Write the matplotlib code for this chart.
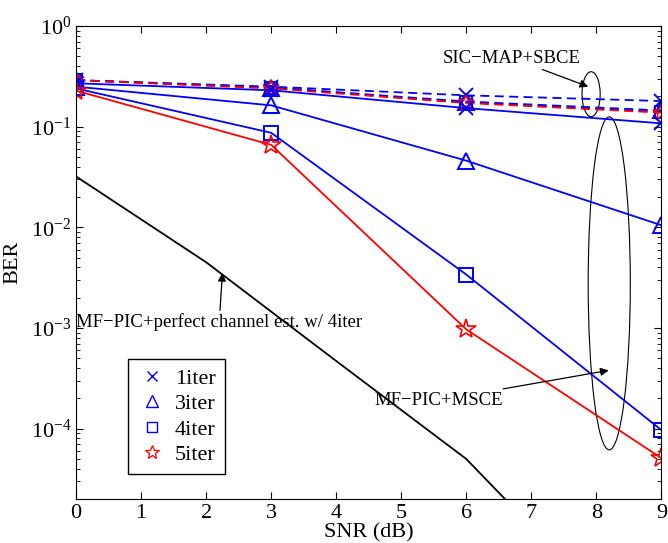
import matplotlib
matplotlib.use("Agg")
import matplotlib.pyplot as plt
from matplotlib.lines import Line2D
from matplotlib.patches import Ellipse

plt.rcParams['font.family'] = ['Liberation Serif', 'DejaVu Serif']
plt.rcParams['mathtext.fontset'] = 'custom'
plt.rcParams['mathtext.rm'] = 'Liberation Serif'
plt.rcParams['mathtext.it'] = 'Liberation Serif:italic'

snr = [0, 3, 6, 9]

# MF-PIC + MSCE (solid)
msce_1iter = [0.27, 0.23, 0.153, 0.108]
msce_3iter = [0.25, 0.163, 0.046, 0.0105]
msce_4iter = [0.24, 0.087, 3.4e-3, 9.7e-5]
msce_5iter = [0.228, 0.066, 9.7e-4, 5.1e-5]

# SIC-MAP + SBCE (dashed)
sbce_1iter = [0.29, 0.25, 0.205, 0.18]
sbce_3iter = [0.29, 0.245, 0.178, 0.145]
sbce_4iter = [0.29, 0.245, 0.175, 0.14]
sbce_5iter = [0.29, 0.24, 0.172, 0.138]

# MF-PIC + perfect channel est. w/ 4iter
snr_perfect = [0, 2, 4, 6, 8]
ber_perfect = [0.032, 4.5e-3, 4.7e-4, 5.0e-5, 2.3e-6]

labels = ['1iter', '3iter', '4iter', '5iter']

fig = plt.figure(figsize=(6.68, 5.43), dpi=100)
ax = fig.add_axes([0.114, 0.081, 0.876, 0.871])

blue = '#0000ff'
red = '#ff0000'
lw = 1.3

ax.semilogy(snr_perfect, ber_perfect, color='k', lw=lw)

# dashed curves
ax.semilogy(snr, sbce_1iter, '--', color=blue, lw=lw, marker='x', ms=10, mew=1.4, dashes=(5, 3))
ax.semilogy(snr, sbce_3iter, '--', color=blue, lw=lw, marker='^', ms=11, mfc='none', mew=1.4, dashes=(5, 3))
ax.semilogy(snr, sbce_4iter, '--', color=blue, lw=lw, marker='s', ms=9, mfc='none', mew=1.4, dashes=(5, 3))
ax.semilogy(snr, sbce_5iter, '--', color=red, lw=lw, marker='*', ms=12, mfc='none', mew=1.1, dashes=(5, 3))

# solid curves
ax.semilogy(snr, msce_1iter, '-', color=blue, lw=lw, marker='x', ms=10, mew=1.4)
ax.semilogy(snr, msce_3iter, '-', color=blue, lw=lw, marker='^', ms=12, mfc='none', mew=1.4)
ax.semilogy(snr, msce_4iter, '-', color=blue, lw=lw, marker='s', ms=10, mfc='none', mew=1.4)
ax.semilogy(snr, msce_5iter, '-', color=red, lw=lw, marker='*', ms=15, mfc='none', mew=1.2)

ax.set_xlim(0, 9)
ax.set_ylim(2e-5, 1)
ax.set_xticks(range(10))
ax.tick_params(which='both', direction='in', top=True, right=True, labelsize=16)
ax.tick_params(which='major', length=5)
ax.tick_params(which='minor', length=3)
ax.tick_params(axis='x', which='minor', bottom=False, top=False)
ax.set_xlabel('SNR (dB)', fontsize=16, labelpad=0)
ax.set_ylabel('BER', fontsize=16, labelpad=6)

# legend with markers only
handles = [
    Line2D([], [], ls='none', color=blue, marker='x', ms=7, mew=1.0),
    Line2D([], [], ls='none', color=blue, marker='^', ms=9, mfc='none', mew=1.0),
    Line2D([], [], ls='none', color=blue, marker='s', ms=7, mfc='none', mew=1.0),
    Line2D([], [], ls='none', color=red, marker='*', ms=10, mfc='none', mew=0.9),
]
leg = ax.legend(handles, labels, loc='lower left', bbox_to_anchor=(0.089, 0.053),
                fontsize=16, fancybox=False, edgecolor='k', framealpha=1,
                handlelength=1.3, handletextpad=0.4, borderpad=0.4, labelspacing=0.22,
                borderaxespad=0)
leg.get_frame().set_linewidth(1.0)

# ellipses around curve groups
ax.add_patch(Ellipse((0.880, 0.856), 0.031, 0.095, transform=ax.transAxes,
                     fill=False, color='k', lw=0.8))
ax.add_patch(Ellipse((0.911, 0.456), 0.072, 0.704, transform=ax.transAxes,
                     fill=False, color='k', lw=0.8))

arrow = dict(arrowstyle='-|>', color='k', lw=0.9, mutation_scale=12, shrinkA=0, shrinkB=0)
ax.annotate('SIC\u2212MAP+SBCE', xy=(0.875, 0.872), xytext=(0.745, 0.932),
            xycoords='axes fraction', textcoords='axes fraction',
            fontsize=13.5, ha='center', va='center', arrowprops=arrow)
ax.annotate('MF\u2212PIC+MSCE', xy=(0.910, 0.272), xytext=(0.62, 0.209),
            xycoords='axes fraction', textcoords='axes fraction',
            fontsize=13.5, ha='center', va='center', arrowprops=arrow)
ax.annotate('MF\u2212PIC+perfect channel est. w/ 4iter', xy=(0.250, 0.478),
            xytext=(0.0, 0.374), xycoords='axes fraction', textcoords='axes fraction',
            fontsize=13.5, ha='left', va='center', arrowprops=arrow)

fig.savefig('out.png', dpi=100)
